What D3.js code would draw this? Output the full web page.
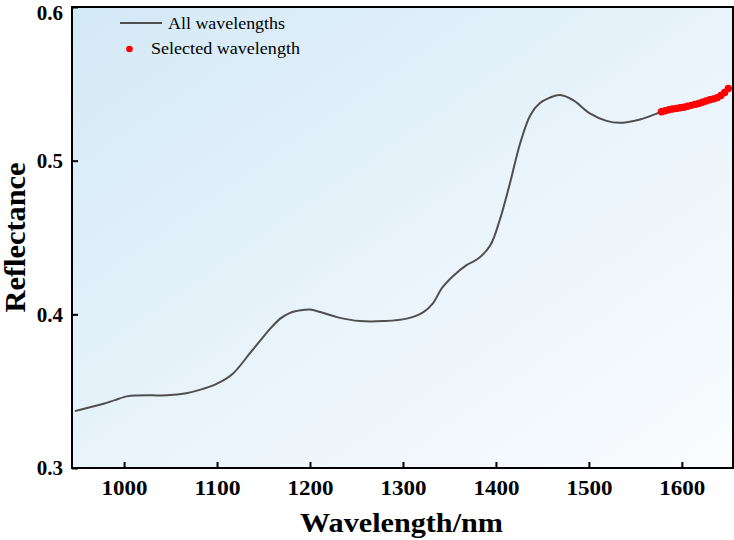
<!DOCTYPE html>
<html>
<head>
<meta charset="utf-8">
<script src="https://cdn.jsdelivr.net/npm/d3@7"></script>
<style>
  body { margin: 0; background: #fff; }
  text { font-family: "Liberation Serif", "Times New Roman", serif; }
</style>
</head>
<body>
<div id="chart"></div>
<script>
// spectrum (nm, reflectance)
const wavelengths = [947, 960, 978, 990, 1003, 1014, 1030, 1046, 1067, 1085, 1100, 1117, 1135, 1146, 1157, 1168,
    1178, 1190, 1200, 1211, 1229, 1254, 1279, 1304, 1322, 1332, 1342, 1354, 1368, 1381, 1394, 1404, 1415, 1426,
    1437, 1447, 1458, 1469, 1483, 1501, 1519, 1533, 1555, 1566,
    1578, 1582, 1586, 1590, 1594, 1598, 1602, 1606, 1610, 1614, 1618, 1622, 1626, 1630, 1634, 1638, 1642, 1646, 1650];
const reflectance = [0.3370, 0.3390, 0.3418, 0.3442, 0.3466, 0.3472, 0.3473, 0.3473, 0.3487, 0.3515, 0.3549, 0.3614,
    0.3744, 0.3825, 0.3905, 0.3972, 0.4008, 0.4026, 0.4031, 0.4015, 0.3982, 0.3956, 0.3956, 0.3972, 0.4015, 0.4070,
    0.4172, 0.4250, 0.4319, 0.4363, 0.4450, 0.4612, 0.4852, 0.5112, 0.5296, 0.5373, 0.5410, 0.5427, 0.5394, 0.5308,
    0.5259, 0.5246, 0.5268, 0.5290,
    0.5318, 0.5325, 0.5331, 0.5336, 0.5340, 0.5344, 0.5348, 0.5354, 0.5360, 0.5366, 0.5372, 0.5380, 0.5388, 0.5396,
    0.5402, 0.5410, 0.5424, 0.5444, 0.5470];
// wavelengths picked by the selection
const selected = [1578, 1582, 1586, 1590, 1594, 1598, 1602, 1606, 1610, 1614, 1618, 1622, 1626, 1630, 1634, 1638,
    1642, 1646, 1650];

const xTicks = [1000, 1100, 1200, 1300, 1400, 1500, 1600];
const yTicks = [0.3, 0.4, 0.5, 0.6];
const legendLabels = ["All wavelengths", "Selected wavelength"];

const spectrum = wavelengths.map((w, i) => ({w: w, r: reflectance[i]}));
const selData = spectrum.filter(d => selected.includes(d.w));

const margin = {top: 7, right: 1, bottom: 72, left: 72};
const W = 734, H = 540;
const width = W - margin.left - margin.right;
const height = H - margin.top - margin.bottom;

const svg = d3.select("#chart").append("svg")
    .attr("width", W)
    .attr("height", H);

const defs = svg.append("defs");
const grad = defs.append("linearGradient")
    .attr("id", "bg")
    .attr("x1", "0%").attr("y1", "0%")
    .attr("x2", "100%").attr("y2", "100%");
grad.append("stop").attr("offset", "0%").attr("stop-color", "#d3e9f6");
grad.append("stop").attr("offset", "55%").attr("stop-color", "#eaf4fb");
grad.append("stop").attr("offset", "100%").attr("stop-color", "#fafcfe");

const g = svg.append("g")
    .attr("transform", "translate(" + margin.left + "," + margin.top + ")");

g.append("rect")
    .attr("width", width)
    .attr("height", height)
    .attr("fill", "url(#bg)");

const x = d3.scaleLinear().domain([944, 1655]).range([0, width]);
const y = d3.scaleLinear().domain([0.3, 0.6]).range([height, 0]);

// axes, ticks pointing inward
const xAxis = g.append("g")
    .attr("transform", "translate(0," + height + ")")
    .call(d3.axisBottom(x).tickValues(xTicks).tickSizeInner(-6).tickSizeOuter(0).tickPadding(12).tickFormat(d3.format("d")));
const yAxis = g.append("g")
    .call(d3.axisLeft(y).tickValues(yTicks).tickSizeInner(-6).tickSizeOuter(0).tickPadding(9).tickFormat(d3.format(".1f")));

[xAxis, yAxis].forEach(a => {
    a.select(".domain").remove();
    a.selectAll(".tick line").attr("stroke", "#000").attr("stroke-width", 2);
    a.selectAll(".tick text")
        .attr("font-family", "Liberation Serif")
        .attr("font-weight", "bold")
        .attr("font-size", 21)
        .attr("fill", "#000");
});
xAxis.selectAll(".tick text").attr("textLength", 46).attr("lengthAdjust", "spacingAndGlyphs");
// keep the top label inside the picture
yAxis.selectAll(".tick text").filter(d => d === 0.6).attr("dy", "0.6em");

// frame
g.append("rect")
    .attr("width", width)
    .attr("height", height)
    .attr("fill", "none")
    .attr("stroke", "#000")
    .attr("stroke-width", 2);

const line = d3.line()
    .x(d => x(d.w))
    .y(d => y(d.r))
    .curve(d3.curveCatmullRom);

g.append("path")
    .datum(spectrum)
    .attr("fill", "none")
    .attr("stroke", "#4f4f4f")
    .attr("stroke-width", 2)
    .attr("d", line);

g.selectAll(".sel")
    .data(selData)
    .enter().append("circle")
    .attr("class", "sel")
    .attr("cx", d => x(d.w))
    .attr("cy", d => y(d.r))
    .attr("r", 3.7)
    .attr("fill", "#ff0000");

// legend
const leg = svg.append("g");
leg.append("line")
    .attr("x1", 120).attr("x2", 162)
    .attr("y1", 23).attr("y2", 23)
    .attr("stroke", "#4f4f4f").attr("stroke-width", 2);
leg.append("text")
    .attr("x", 168).attr("y", 29)
    .attr("font-size", 17)
    .attr("textLength", 117).attr("lengthAdjust", "spacingAndGlyphs")
    .text(legendLabels[0]);
leg.append("circle")
    .attr("cx", 129.5).attr("cy", 49)
    .attr("r", 3.3)
    .attr("fill", "#ff0000");
leg.append("text")
    .attr("x", 151).attr("y", 54)
    .attr("font-size", 17)
    .attr("textLength", 149).attr("lengthAdjust", "spacingAndGlyphs")
    .text(legendLabels[1]);

// axis titles
svg.append("text")
    .attr("x", 401.5)
    .attr("y", 532)
    .attr("text-anchor", "middle")
    .attr("font-weight", "bold")
    .attr("font-size", 28)
    .attr("textLength", 203).attr("lengthAdjust", "spacingAndGlyphs")
    .text("Wavelength/nm");

svg.append("text")
    .attr("transform", "translate(25,237.5) rotate(-90)")
    .attr("text-anchor", "middle")
    .attr("font-weight", "bold")
    .attr("font-size", 29)
    .attr("textLength", 150).attr("lengthAdjust", "spacingAndGlyphs")
    .text("Reflectance");
</script>
</body>
</html>
